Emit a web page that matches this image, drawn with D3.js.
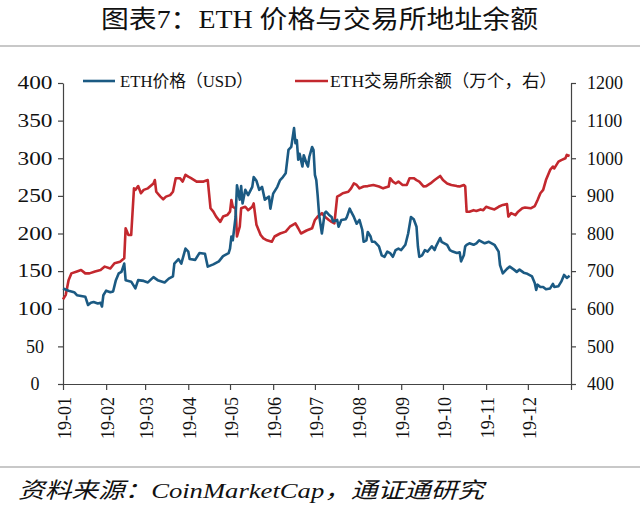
<!DOCTYPE html>
<html><head><meta charset="utf-8">
<script src="https://cdn.jsdelivr.net/npm/d3@7"></script>
<style>body{margin:0;background:#fff}svg{display:block}</style>
</head><body><svg id="c" width="640" height="514"></svg>
<script>
const titleText = "图表7：ETH 价格与交易所地址余额";
const sourceText = "资料来源：CoinMarketCap，通证通研究";
const seriesNames = ["ETH价格（USD）", "ETH交易所余额（万个，右）"];
const monthTickLabels = ["19-01","19-02","19-03","19-04","19-05","19-06","19-07","19-08","19-09","19-10","19-11","19-12",""];
const leftTicks = [0,50,100,150,200,250,300,350,400];
const rightTicks = [400,500,600,700,800,900,1000,1100,1200];

const priceDates = ["01-01","01-05","01-09","01-11","01-14","01-17","01-19","01-21","01-23","01-26","01-28","01-29","01-30","02-01","02-04","02-06","02-08","02-10","02-12","02-14","02-15","02-19","02-22","02-24","02-28","03-03","03-07","03-10","03-15","03-18","03-21","03-22","03-25","03-27","03-30","04-01","04-02","04-06","04-09","04-13","04-15","04-19","04-23","04-26","04-30","05-01","05-02","05-03","05-05","05-06","05-08","05-09","05-10","05-12","05-14","05-17","05-18","05-20","05-22","05-24","05-26","05-29","05-30","06-01","06-04","06-06","06-08","06-10","06-12","06-14","06-16","06-17","06-18","06-19","06-20","06-22","06-23","06-25","06-26","06-27","06-29","06-30","07-01","07-02","07-03","07-04","07-06","07-07","07-08","07-09","07-11","07-13","07-14","07-17","07-18","07-20","07-23","07-24","07-26","07-27","07-29","07-31","08-02","08-04","08-05","08-07","08-08","08-10","08-11","08-13","08-16","08-18","08-20","08-22","08-24","08-26","08-28","08-30","09-01","09-04","09-06","09-08","09-10","09-12","09-13","09-14","09-16","09-18","09-20","09-23","09-25","09-26","09-29","09-30","10-02","10-04","10-06","10-08","10-11","10-13","10-14","10-16","10-17","10-18","10-20","10-23","10-25","10-27","10-29","10-31","11-03","11-05","11-07","11-10","11-11","11-13","11-16","11-18","11-21","11-23","11-25","11-28","11-30","12-02","12-04","12-06","12-07","12-08","12-10","12-12","12-14","12-17","12-19","12-20","12-23","12-25","12-27","12-29","12-31"];
const priceValues = [127,124,122,118,117,116,105,108,109,107,108,103,118,124,122,123,138,147,149,160,138,136,127,138,137,135,142,138,135,140,143,160,166,160,180,176,166,165,174,173,156,159,163,170,174,180,196,191,222,264,245,263,240,258,251,262,275,270,258,262,245,249,233,253,262,271,275,280,311,315,340,320,324,298,306,289,304,293,289,302,315,311,278,271,250,225,200,213,227,229,225,222,216,218,209,218,219,222,233,229,222,213,218,205,189,191,202,196,189,189,183,171,169,176,174,169,178,180,178,185,200,222,219,209,183,169,171,178,176,183,178,183,194,189,187,185,178,176,174,175,163,171,183,185,187,185,187,191,189,187,189,187,185,176,158,147,153,156,152,149,152,148,147,145,143,134,125,132,129,129,126,127,133,129,130,136,145,141,144];

const balanceDates = ["01-01","01-03","01-05","01-07","01-11","01-14","01-17","01-20","01-24","01-28","01-31","02-04","02-07","02-11","02-14","02-15","02-17","02-19","02-21","02-22","02-24","02-26","02-28","03-03","03-07","03-08","03-09","03-12","03-14","03-16","03-19","03-21","03-23","03-26","03-28","03-30","04-01","04-03","04-07","04-12","04-15","04-17","04-19","04-21","04-24","04-26","04-29","05-01","05-02","05-03","05-05","05-06","05-08","05-09","05-12","05-14","05-17","05-18","05-20","05-23","05-25","05-27","05-31","06-02","06-06","06-10","06-13","06-17","06-19","06-21","06-25","06-29","07-01","07-03","07-06","07-08","07-11","07-13","07-15","07-17","07-19","07-21","07-25","07-27","07-29","07-31","08-02","08-05","08-08","08-12","08-16","08-19","08-23","08-24","08-26","08-28","08-30","09-02","09-05","09-07","09-10","09-12","09-14","09-17","09-19","09-22","09-25","09-29","10-01","10-04","10-07","10-11","10-13","10-16","10-17","10-18","10-20","10-23","10-25","10-28","10-30","11-01","11-04","11-07","11-10","11-13","11-16","11-17","11-19","11-22","11-24","11-27","11-29","12-03","12-06","12-08","12-10","12-12","12-14","12-17","12-19","12-20","12-23","12-25","12-28","12-29","12-31"];
const balanceValues = [625,637,676,694,699,703,694,694,699,703,712,707,721,725,734,814,796,796,920,916,926,907,916,920,933,942,911,898,891,898,902,911,947,947,938,956,951,947,938,938,942,867,858,845,831,845,849,858,889,871,867,792,818,867,871,862,871,880,823,796,787,783,778,792,800,805,818,827,814,800,808,814,836,845,854,845,836,831,827,898,902,907,911,920,933,929,920,925,926,929,925,920,925,947,938,933,938,929,929,947,947,942,938,925,926,933,942,953,942,933,929,926,925,929,925,858,858,862,860,864,862,871,867,864,871,876,878,845,854,849,858,867,869,867,873,889,907,916,942,969,978,973,991,995,1000,1009,1006];

const parse = d3.timeParse("%Y-%m-%d");
const priceData = priceDates.map((d,i)=>({date:parse("2019-"+d), v:priceValues[i]}));
const balanceData = balanceDates.map((d,i)=>({date:parse("2019-"+d), v:balanceValues[i]}));

const serif = "'Liberation Serif','Noto Sans CJK SC',serif";
const svg = d3.select("#c");
svg.append("rect").attr("width",640).attr("height",514).attr("fill","#fff");

// title
svg.append("text").attr("x",101).attr("y",28).attr("textLength",437).attr("lengthAdjust","spacingAndGlyphs")
  .style("font-family",serif).style("font-size","25px").attr("fill","#111").text(titleText);
svg.append("rect").attr("x",0).attr("y",45).attr("width",640).attr("height",2).attr("fill","#c8c8c8");
svg.append("rect").attr("x",0).attr("y",466).attr("width",640).attr("height",2).attr("fill","#c8c8c8");
svg.append("text").attr("x",18).attr("y",498).attr("textLength",466).attr("lengthAdjust","spacingAndGlyphs")
  .style("font-family",serif).style("font-size","22px").style("font-style","italic").attr("fill","#111").text(sourceText);

const x = d3.scaleTime().domain([new Date(2019,0,1), new Date(2020,0,1)]).range([63,571]);
const yL = d3.scaleLinear().domain([0,400]).range([384,83]);
const yR = d3.scaleLinear().domain([400,1200]).range([384,83]);

const monthTicks = d3.timeMonth.range(new Date(2019,0,1), new Date(2020,0,2));
const xAxis = d3.axisBottom(x).tickValues(monthTicks).tickSize(6).tickSizeOuter(0)
  .tickFormat((d,i)=>monthTickLabels[i]);
const gx = svg.append("g").attr("transform","translate(0,384)").call(xAxis);
gx.selectAll("text").attr("transform","rotate(-90)").attr("text-anchor","end")
  .attr("x",-13).attr("y",1).attr("dy","0.35em");

const gl = svg.append("g").attr("transform","translate(63,0)")
  .call(d3.axisLeft(yL).tickValues(leftTicks).tickSize(5).tickSizeOuter(0).tickFormat(d3.format("d")));
gl.selectAll(".tick text").attr("text-anchor","middle").attr("x",-28)
  .each(function(d){ const s=String(d); if (s.length===3) d3.select(this).attr("textLength",35).attr("lengthAdjust","spacingAndGlyphs"); });
const gr = svg.append("g").attr("transform","translate(571,0)")
  .call(d3.axisRight(yR).tickValues(rightTicks).tickSize(5).tickSizeOuter(0).tickPadding(11).tickFormat(d3.format("d")));

[gx,gl,gr].forEach(g=>{
  g.selectAll("path,line").attr("stroke","#444").attr("stroke-width",1.2);
  g.selectAll("text").style("font-family",serif).style("font-size","18px").attr("fill","#111");
});

const lineL = d3.line().x(d=>x(d.date)).y(d=>yL(d.v));
const lineR = d3.line().x(d=>x(d.date)).y(d=>yR(d.v));
const red = "#c3282e", blue = "#1b5a83";
svg.append("path").datum(balanceData).attr("d",lineR).attr("fill","none").attr("stroke",red).attr("stroke-width",2.6).attr("stroke-linejoin","round");
svg.append("path").datum(priceData).attr("d",lineL).attr("fill","none").attr("stroke",blue).attr("stroke-width",2.6).attr("stroke-linejoin","round");

// legend
const leg = svg.append("g");
leg.append("line").attr("x1",83).attr("x2",115).attr("y1",81).attr("y2",81).attr("stroke",blue).attr("stroke-width",2.6);
leg.append("text").attr("x",120).attr("y",87).attr("textLength",133).attr("lengthAdjust","spacingAndGlyphs")
  .style("font-family",serif).style("font-size","17px").attr("fill","#111").text(seriesNames[0]);
leg.append("line").attr("x1",295).attr("x2",328).attr("y1",81).attr("y2",81).attr("stroke",red).attr("stroke-width",2.6);
leg.append("text").attr("x",330).attr("y",87).attr("textLength",227).attr("lengthAdjust","spacingAndGlyphs")
  .style("font-family",serif).style("font-size","17px").attr("fill","#111").text(seriesNames[1]);
</script></body></html>
